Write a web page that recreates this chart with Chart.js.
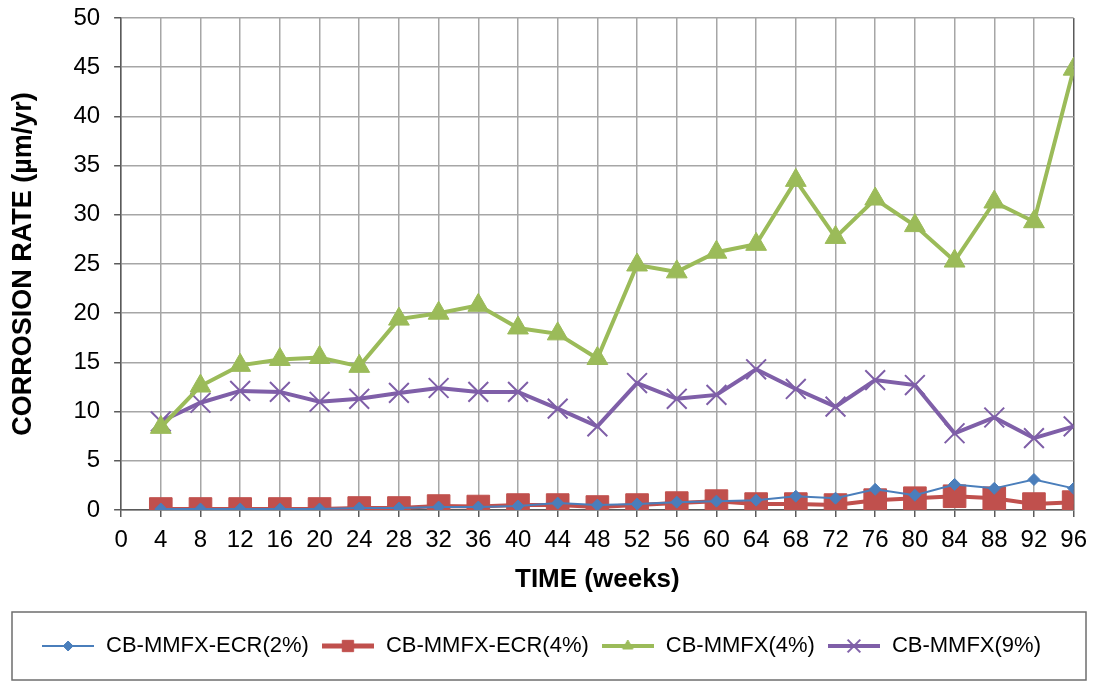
<!DOCTYPE html>
<html>
<head>
<meta charset="utf-8">
<script src="https://cdn.jsdelivr.net/npm/chart.js@4/dist/chart.umd.min.js"></script>
<style>
  html, body { margin: 0; padding: 0; background: #fff; }
  #wrap { width: 1096px; height: 683px; position: relative; }
</style>
</head>
<body>
<div id="wrap"><canvas id="chartCorrosion"></canvas></div>
<script>
// data
const weeks = [4, 8, 12, 16, 20, 24, 28, 32, 36, 40, 44, 48, 52, 56, 60, 64, 68, 72, 76, 80, 84, 88, 92, 96]
const ecr2 = [0.1, 0.1, 0.1, 0.1, 0.1, 0.2, 0.2, 0.3, 0.3, 0.4, 0.7, 0.5, 0.6, 0.8, 0.9, 1.0, 1.4, 1.2, 2.1, 1.5, 2.6, 2.2, 3.1, 2.2]
const ecr4 = [0.1, 0.1, 0.1, 0.1, 0.1, 0.2, 0.2, 0.4, 0.35, 0.5, 0.5, 0.3, 0.5, 0.7, 0.9, 0.6, 0.6, 0.5, 1.0, 1.2, 1.4, 1.2, 0.6, 0.8]
const mmfx4 = [8.4, 12.6, 14.7, 15.3, 15.5, 14.6, 19.4, 20.0, 20.8, 18.5, 17.9, 15.4, 24.9, 24.2, 26.2, 27.0, 33.5, 27.7, 31.6, 28.9, 25.3, 31.3, 29.3, 44.8]
const mmfx9 = [9.0, 10.9, 12.1, 12.0, 11.0, 11.3, 11.9, 12.4, 12.0, 12.0, 10.3, 8.5, 12.9, 11.3, 11.7, 14.3, 12.3, 10.5, 13.2, 12.7, 7.8, 9.4, 7.3, 8.5]
const seriesNames = ['CB-MMFX-ECR(2%)', 'CB-MMFX-ECR(4%)', 'CB-MMFX(4%)', 'CB-MMFX(9%)']

const blue = '#4a7ebb', red = '#c0504d', green = '#9bbb59', purple = '#7f5fa8'
const gridColor = '#a6a6a6', axisColor = '#5a5a5a'

Chart.defaults.font.family = 'Arial, "Liberation Sans", sans-serif'
Chart.defaults.color = '#000'

const pts = arr => arr.map((v, i) => ({ x: weeks[i], y: v }))

// legend icon: short line with the marker in the middle
function legendIcon(color, lineW, style, r, markerBorder) {
    const c = document.createElement('canvas')
    c.width = 52; c.height = 24
    const g = c.getContext('2d')
    g.strokeStyle = color; g.lineWidth = lineW
    g.beginPath(); g.moveTo(0, 12); g.lineTo(52, 12); g.stroke()
    g.fillStyle = color; g.strokeStyle = color; g.lineWidth = markerBorder
    Chart.helpers.drawPoint(g, { pointStyle: style, radius: r, rotation: 0, borderWidth: markerBorder }, 26, 12)
    return c
}
const icons = [
    legendIcon(blue, 2, 'rectRot', 5, 1),
    legendIcon(red, 5, 'rect', 8, 1),
    legendIcon(green, 4, 'triangle', 6, 1),
    legendIcon(purple, 4, 'crossRot', 9, 2)
]

// frame round the legend, like the Excel original
const legendBox = {
    id: 'legendBox',
    afterDraw(chart) {
        const lg = chart.legend
        const ctx = chart.ctx
        const top = lg.top - 11
        ctx.save()
        ctx.strokeStyle = '#6e6e6e'
        ctx.lineWidth = 1.5
        ctx.strokeRect(12, top, chart.width - 22, chart.height - 3 - top)
        ctx.restore()
    }
}

new Chart(document.getElementById('chartCorrosion'), {
    type: 'line',
    data: {
        datasets: [
            { label: seriesNames[0], data: pts(ecr2), borderColor: blue, backgroundColor: blue, borderWidth: 2,
              pointStyle: 'rectRot', pointRadius: 6, pointBorderWidth: 1 },
            { label: seriesNames[1], data: pts(ecr4), borderColor: red, backgroundColor: red, borderWidth: 4,
              pointStyle: 'rect', pointRadius: 16, pointBorderWidth: 1 },
            { label: seriesNames[2], data: pts(mmfx4), borderColor: green, backgroundColor: green, borderWidth: 4,
              pointStyle: 'triangle', pointRadius: 12, pointBorderWidth: 1 },
            { label: seriesNames[3], data: pts(mmfx9), borderColor: purple, backgroundColor: purple, borderWidth: 4,
              pointStyle: 'crossRot', pointRadius: 14, pointBorderWidth: 2 }
        ]
    },
    options: {
        responsive: true,
        maintainAspectRatio: false,
        animation: false,
        layout: { padding: { top: 18, right: 14, left: 0, bottom: 16 } },
        plugins: {
            tooltip: { enabled: false },
            legend: {
                position: 'bottom',
                labels: {
                    usePointStyle: true,
                    pointStyleWidth: 54,
                    padding: 12,
                    font: { size: 22 },
                    generateLabels: chart => chart.data.datasets.map((ds, i) => ({
                        text: ds.label, pointStyle: icons[i], fillStyle: ds.borderColor,
                        strokeStyle: ds.borderColor, lineWidth: 0, hidden: false, datasetIndex: i, fontColor: '#000'
                    }))
                }
            }
        },
        scales: {
            x: {
                type: 'linear', min: 0, max: 96,
                ticks: { stepSize: 4, font: { size: 24 }, padding: 9, maxRotation: 0, autoSkip: false },
                grid: {
                    color: ctx => ctx.tick && ctx.tick.value === 96 ? axisColor : gridColor,
                    lineWidth: 1.5, tickLength: 7, tickColor: axisColor
                },
                border: { color: axisColor, width: 1.5 },
                title: { display: true, text: 'TIME (weeks)', font: { size: 26, weight: 'bold' }, padding: { top: 0, bottom: 28 } }
            },
            y: {
                min: 0, max: 50,
                ticks: { stepSize: 5, font: { size: 24 }, padding: 14 },
                grid: { color: gridColor, lineWidth: 1.5, tickLength: 7, tickColor: axisColor },
                border: { color: axisColor, width: 1.5 },
                title: { display: true, text: 'CORROSION RATE (µm/yr)', font: { size: 27, weight: 'bold' }, padding: { top: 7, bottom: 20 } },
                afterFit: scale => { scale.paddingTop = 0 }
            }
        }
    },
    plugins: [legendBox]
})
</script>
</body>
</html>
